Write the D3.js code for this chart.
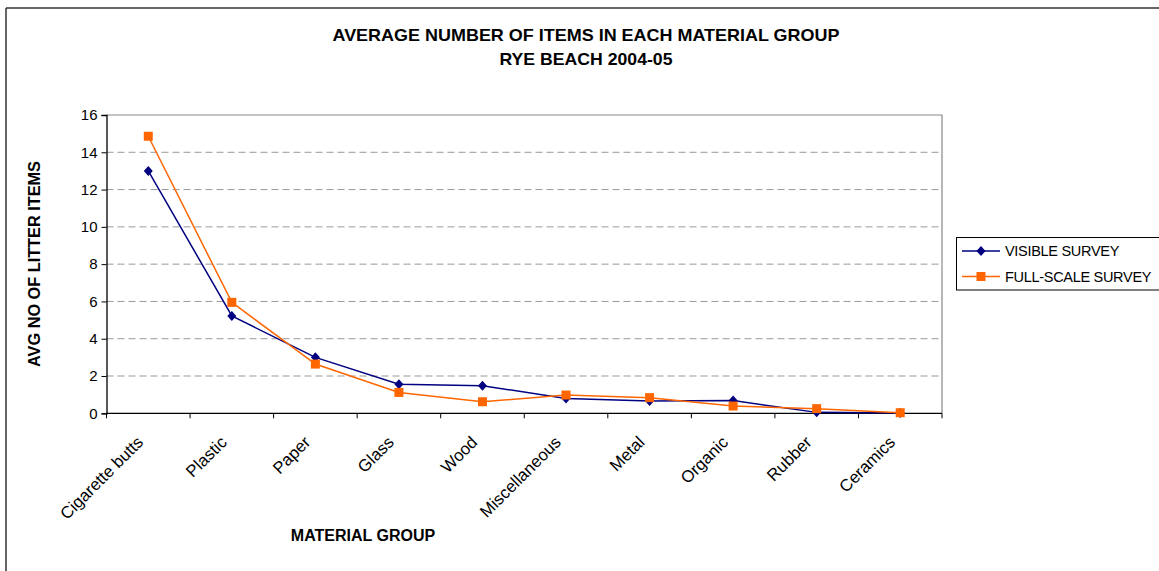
<!DOCTYPE html>
<html><head><meta charset="utf-8">
<script src="https://cdn.jsdelivr.net/npm/d3@7"></script>
<style>body{margin:0;background:#fff}svg{display:block;font-family:"Liberation Sans",Arial,sans-serif}</style>
</head><body><svg id="c" width="1159" height="571"></svg>
<script>
const categories=["Cigarette butts","Plastic","Paper","Glass","Wood","Miscellaneous","Metal","Organic","Rubber","Ceramics"];
const visibleSurvey=[13.0,5.22,3.0,1.56,1.48,0.8,0.66,0.68,0.05,0.01];
const fullScaleSurvey=[14.86,5.95,2.64,1.12,0.62,0.98,0.84,0.39,0.25,0.03];
const yTicks=[0,2,4,6,8,10,12,14,16];
const seriesNames=["VISIBLE SURVEY","FULL-SCALE SURVEY"];
const colors=["#000080","#FF6600"];

const svg=d3.select("#c");
const L=106.5,R=942,T=115,B=413.3;
// outer frame
svg.append("line").attr("x1",6).attr("x2",1159).attr("y1",8).attr("y2",8).attr("stroke","#333").attr("stroke-width",1.5);
svg.append("line").attr("x1",6).attr("x2",6).attr("y1",8).attr("y2",571).attr("stroke","#333").attr("stroke-width",1.5);

const x=d3.scaleBand().domain(categories).range([L,R]);
const y=d3.scaleLinear().domain([0,16]).range([B,T]);

// gridlines
svg.append("g").selectAll("line").data(yTicks.filter(d=>d>0&&d<16)).join("line")
 .attr("x1",L).attr("x2",R).attr("y1",d=>y(d)).attr("y2",d=>y(d))
 .attr("stroke","#999").attr("stroke-dasharray","7,4").attr("stroke-width",1);
// plot border top/right
svg.append("path").attr("d",`M${L},${T}H${R}V${B}`).attr("fill","none").attr("stroke","#888").attr("stroke-width",1.2);

// y axis
const ya=svg.append("g").attr("transform",`translate(${L},0)`).call(d3.axisLeft(y).tickValues(yTicks).tickSize(5).tickPadding(4).tickFormat(d3.format("d")));
ya.select(".domain").attr("stroke","#000").attr("stroke-width",1.3);
ya.selectAll(".tick line").attr("stroke","#000");
ya.selectAll("text").attr("font-size",15).attr("fill","#000").style("font-family","Liberation Sans, Arial, sans-serif");

// x axis
const xa=svg.append("g").attr("transform",`translate(0,${B})`);
xa.append("line").attr("x1",L).attr("x2",R).attr("stroke","#000").attr("stroke-width",1.3);
const bounds=d3.range(categories.length+1).map(i=>L+i*x.step());
xa.selectAll(".tk").data(bounds).join("line").attr("x1",d=>d).attr("x2",d=>d).attr("y1",0).attr("y2",5).attr("stroke","#000");
xa.selectAll(".lbl").data(categories).join("text")
 .attr("transform",d=>`translate(${x(d)+x.bandwidth()/2-4},${30}) rotate(-45)`)
 .attr("text-anchor","end").attr("font-size",16.8).attr("fill","#000").text(d=>d);

// lines
const series=[visibleSurvey,fullScaleSurvey];
const line=d3.line().x((d,i)=>x(categories[i])+x.bandwidth()/2).y(d=>y(d));
series.forEach((s,k)=>{
  svg.append("path").datum(s).attr("d",line).attr("fill","none").attr("stroke",colors[k]).attr("stroke-width",1.5);
});
// markers
svg.append("g").selectAll("path").data(visibleSurvey).join("path")
 .attr("transform",(d,i)=>`translate(${x(categories[i])+x.bandwidth()/2},${y(d)})`)
 .attr("d","M0,-5L4.5,0L0,5L-4.5,0Z").attr("fill",colors[0]);
svg.append("g").selectAll("rect").data(fullScaleSurvey).join("rect")
 .attr("x",(d,i)=>x(categories[i])+x.bandwidth()/2-4.5).attr("y",d=>y(d)-4.5)
 .attr("width",9).attr("height",9).attr("fill",colors[1]);

// titles
svg.append("text").attr("x",586).attr("y",41).attr("text-anchor","middle").attr("font-size",16.3).attr("font-weight","bold")
 .attr("textLength",507).attr("lengthAdjust","spacingAndGlyphs").text("AVERAGE NUMBER OF ITEMS IN EACH MATERIAL GROUP");
svg.append("text").attr("x",586).attr("y",65).attr("text-anchor","middle").attr("font-size",16.3).attr("font-weight","bold")
 .attr("textLength",173).attr("lengthAdjust","spacingAndGlyphs").text("RYE BEACH 2004-05");
svg.append("text").attr("x",363).attr("y",541).attr("text-anchor","middle").attr("font-size",16).attr("font-weight","bold").text("MATERIAL GROUP");
svg.append("text").attr("transform","translate(40,264) rotate(-90)").attr("text-anchor","middle").attr("font-size",16.3).attr("font-weight","bold").text("AVG NO OF LITTER ITEMS");

// legend
const lg=svg.append("g");
lg.append("rect").attr("x",956.5).attr("y",237.5).attr("width",210).attr("height",52.5).attr("fill","#fff").attr("stroke","#000").attr("stroke-width",1);
const rows=[251,276.5];
seriesNames.forEach((n,k)=>{
  lg.append("line").attr("x1",962).attr("x2",1000).attr("y1",rows[k]).attr("y2",rows[k]).attr("stroke",colors[k]).attr("stroke-width",1.5);
  if(k===0) lg.append("path").attr("transform",`translate(981,${rows[k]})`).attr("d","M0,-5L4.5,0L0,5L-4.5,0Z").attr("fill",colors[0]);
  else lg.append("rect").attr("x",976.5).attr("y",rows[k]-4.5).attr("width",9).attr("height",9).attr("fill",colors[1]);
  lg.append("text").attr("x",1005).attr("y",rows[k]+5).attr("font-size",14.5).attr("letter-spacing",-0.3).text(n);
});
</script></body></html>
